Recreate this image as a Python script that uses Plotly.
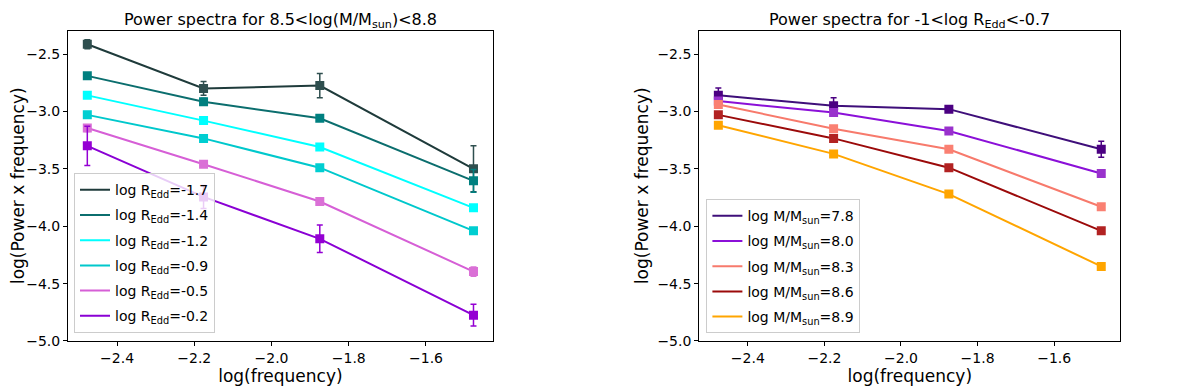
import plotly.graph_objects as go
from plotly.subplots import make_subplots

# log(frequency) bins, same for both panels
log_freq = [-2.477, -2.176, -1.875, -1.477]

# left panel: 8.5 < log(M/Msun) < 8.8, split by Eddington ratio
redd_labels = ["-1.7", "-1.4", "-1.2", "-0.9", "-0.5", "-0.2"]
redd_power = [
    [-2.415, -2.80, -2.775, -3.50],
    [-2.69, -2.915, -3.06, -3.605],
    [-2.86, -3.08, -3.31, -3.84],
    [-3.03, -3.235, -3.49, -4.04],
    [-3.145, -3.46, -3.785, -4.395],
    [-3.30, -3.745, -4.11, -4.775],
]
redd_err = [
    [0.04, 0.06, 0.105, 0.20],
    [0.01, 0.03, 0.02, 0.10],
    [0.01, 0.01, 0.01, 0.01],
    [0.01, 0.01, 0.01, 0.01],
    [0.03, 0.02, 0.03, 0.04],
    [0.17, 0.10, 0.12, 0.095],
]
redd_line_colors = ["#1f3b3b", "#0b6e6e", "#00ffff", "#00c8cc", "#d65fd6", "#8a00d4"]
redd_marker_colors = ["#2f4f4f", "#008080", "#00ffff", "#00ced1", "#da70d6", "#9400d3"]

# right panel: -1 < log R_Edd < -0.7, split by black hole mass
mass_labels = ["7.8", "8.0", "8.3", "8.6", "8.9"]
mass_power = [
    [-2.86, -2.95, -2.98, -3.33],
    [-2.91, -3.01, -3.17, -3.54],
    [-2.94, -3.15, -3.33, -3.83],
    [-3.03, -3.235, -3.49, -4.04],
    [-3.12, -3.37, -3.72, -4.35],
]
mass_err = [
    [0.065, 0.07, 0.02, 0.07],
    [0.01, 0.02, 0.01, 0.02],
    [0.01, 0.01, 0.01, 0.01],
    [0.01, 0.01, 0.01, 0.01],
    [0.01, 0.01, 0.02, 0.01],
]
mass_line_colors = ["#3f0f7a", "#8b10d8", "#f77a6c", "#9b0a0a", "#ffa500"]
mass_marker_colors = ["#4b0082", "#9932cc", "#fa8072", "#b22222", "#ffa500"]

FONT = "DejaVu Sans"

fig = make_subplots(rows=1, cols=2)


def add_series(col, xs, ys, errs, name, line_color, marker_color, legend):
    fig.add_trace(go.Scatter(
        x=xs, y=ys,
        mode="lines+markers",
        line=dict(color=line_color, width=2),
        marker=dict(symbol="square", size=9, color=marker_color),
        error_y=dict(type="data", array=errs, color=marker_color,
                     thickness=1.5, width=3),
        showlegend=False,
        hoverinfo="x+y",
    ), row=1, col=col)
    # legend entry shows only the line, like the matplotlib legend
    fig.add_trace(go.Scatter(
        x=[None], y=[None],
        mode="lines",
        line=dict(color=line_color, width=2),
        name=name,
        legend=legend,
        legendgroup=name,
    ), row=1, col=col)


for lab, ys, errs, lc, mc in zip(redd_labels, redd_power, redd_err,
                                 redd_line_colors, redd_marker_colors):
    add_series(1, log_freq, ys, errs, f"log R<sub>Edd</sub>={lab}", lc, mc, "legend")

for lab, ys, errs, lc, mc in zip(mass_labels, mass_power, mass_err,
                                 mass_line_colors, mass_marker_colors):
    add_series(2, log_freq, ys, errs, f"log M/M<sub>sun</sub>={lab}", lc, mc, "legend2")

axis_common = dict(
    showgrid=False, zeroline=False,
    showline=True, linecolor="black", linewidth=1, mirror=True,
    ticks="outside", ticklen=4, tickcolor="black",
    tickfont=dict(family=FONT, size=14, color="black"),
    title_font=dict(family=FONT, size=17, color="black"),
)

for i, dom in [(1, [0.05, 0.404]), (2, [0.576, 0.927])]:
    fig.update_xaxes(
        axis_common, domain=dom, range=[-2.527, -1.427],
        tickvals=[-2.4, -2.2, -2.0, -1.8, -1.6], tickformat=".1f",
        title_text="log(frequency)", title_standoff=2,
        row=1, col=i,
    )
    fig.update_yaxes(
        axis_common, domain=[0.1214, 0.9406], range=[-5.0, -2.295],
        tickvals=[-2.5, -3.0, -3.5, -4.0, -4.5, -5.0], tickformat=".1f",
        title_text="log(Power x frequency)", title_standoff=4,
        row=1, col=i,
    )

legend_common = dict(
    font=dict(family=FONT, size=14, color="black"),
    bgcolor="rgba(255,255,255,0.8)",
    bordercolor="#cccccc", borderwidth=1,
    xanchor="left", yanchor="bottom",
    itemwidth=30, tracegroupgap=4,
)

fig.update_layout(
    width=1200, height=387,
    margin=dict(l=0, r=0, t=0, b=0),
    plot_bgcolor="white", paper_bgcolor="white",
    font=dict(family=FONT, size=14, color="black"),
    legend=dict(legend_common, x=0.055, y=0.142),
    legend2=dict(legend_common, x=0.582, y=0.142),
    annotations=[
        dict(text="Power spectra for 8.5&lt;log(M/M<sub>sun</sub>)&lt;8.8",
             x=0.227, y=1.0, xref="paper", yref="paper",
             xanchor="center", yanchor="top", showarrow=False,
             font=dict(family=FONT, size=16, color="black")),
        dict(text="Power spectra for -1&lt;log R<sub>Edd</sub>&lt;-0.7",
             x=0.7515, y=1.0, xref="paper", yref="paper",
             xanchor="center", yanchor="top", showarrow=False,
             font=dict(family=FONT, size=16, color="black")),
    ],
)

fig.write_html("out.html")
